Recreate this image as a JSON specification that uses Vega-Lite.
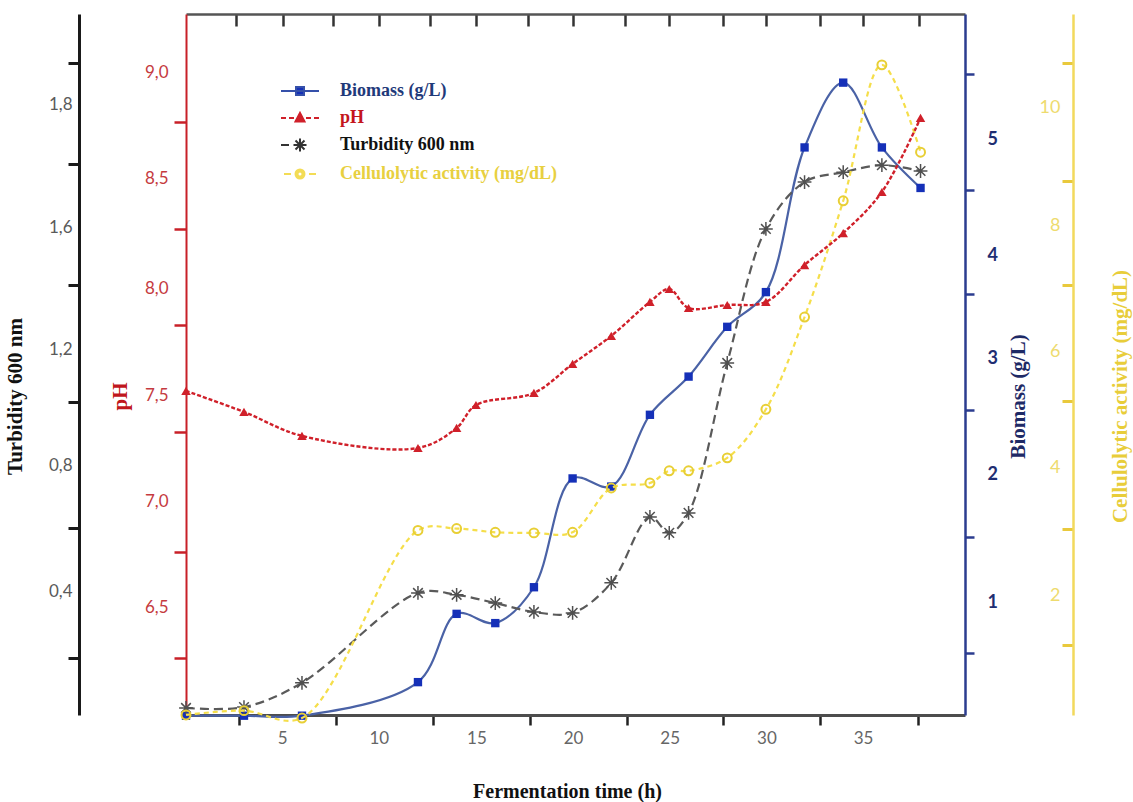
{
  "$schema": "https://vega.github.io/schema/vega-lite/v6.json",
  "width": 779,
  "height": 701,
  "autosize": {"type": "none"},
  "padding": {"left": 186, "top": 14, "right": 168, "bottom": 87},
  "background": "white",
  "config": {
    "view": {"stroke": null},
    "axis": {"grid": false, "labelFont": "Lato", "titleFont": "Liberation Serif", "titleFontWeight": "bold", "titleFontSize": 21, "labelOverlap": false, "labelFlush": false}
  },
  "data": {
    "values": [
      {"t": 0, "series": "Biomass (g/L)", "value": 0},
      {"t": 3, "series": "Biomass (g/L)", "value": 0},
      {"t": 6, "series": "Biomass (g/L)", "value": 0},
      {"t": 12, "series": "Biomass (g/L)", "value": 0.29},
      {"t": 14, "series": "Biomass (g/L)", "value": 0.88},
      {"t": 16, "series": "Biomass (g/L)", "value": 0.8},
      {"t": 18, "series": "Biomass (g/L)", "value": 1.11},
      {"t": 20, "series": "Biomass (g/L)", "value": 2.05},
      {"t": 22, "series": "Biomass (g/L)", "value": 1.98},
      {"t": 24, "series": "Biomass (g/L)", "value": 2.6},
      {"t": 26, "series": "Biomass (g/L)", "value": 2.93},
      {"t": 28, "series": "Biomass (g/L)", "value": 3.36},
      {"t": 30, "series": "Biomass (g/L)", "value": 3.66},
      {"t": 32, "series": "Biomass (g/L)", "value": 4.91},
      {"t": 34, "series": "Biomass (g/L)", "value": 5.47},
      {"t": 36, "series": "Biomass (g/L)", "value": 4.91},
      {"t": 38, "series": "Biomass (g/L)", "value": 4.56},
      {"t": 0, "series": "pH", "value": 7.514},
      {"t": 3, "series": "pH", "value": 7.417},
      {"t": 6, "series": "pH", "value": 7.306},
      {"t": 12, "series": "pH", "value": 7.25},
      {"t": 14, "series": "pH", "value": 7.343},
      {"t": 15, "series": "pH", "value": 7.449},
      {"t": 18, "series": "pH", "value": 7.505},
      {"t": 20, "series": "pH", "value": 7.639},
      {"t": 22, "series": "pH", "value": 7.769},
      {"t": 24, "series": "pH", "value": 7.926},
      {"t": 25, "series": "pH", "value": 7.986},
      {"t": 26, "series": "pH", "value": 7.898},
      {"t": 28, "series": "pH", "value": 7.912},
      {"t": 30, "series": "pH", "value": 7.926},
      {"t": 32, "series": "pH", "value": 8.097},
      {"t": 34, "series": "pH", "value": 8.245},
      {"t": 36, "series": "pH", "value": 8.435},
      {"t": 38, "series": "pH", "value": 8.778},
      {"t": 0, "series": "Turbidity 600 nm", "value": 0.025},
      {"t": 3, "series": "Turbidity 600 nm", "value": 0.028},
      {"t": 6, "series": "Turbidity 600 nm", "value": 0.107},
      {"t": 12, "series": "Turbidity 600 nm", "value": 0.4},
      {"t": 14, "series": "Turbidity 600 nm", "value": 0.394},
      {"t": 16, "series": "Turbidity 600 nm", "value": 0.367},
      {"t": 18, "series": "Turbidity 600 nm", "value": 0.338},
      {"t": 20, "series": "Turbidity 600 nm", "value": 0.335},
      {"t": 22, "series": "Turbidity 600 nm", "value": 0.433},
      {"t": 24, "series": "Turbidity 600 nm", "value": 0.648},
      {"t": 25, "series": "Turbidity 600 nm", "value": 0.596},
      {"t": 26, "series": "Turbidity 600 nm", "value": 0.661},
      {"t": 28, "series": "Turbidity 600 nm", "value": 1.15},
      {"t": 30, "series": "Turbidity 600 nm", "value": 1.587},
      {"t": 32, "series": "Turbidity 600 nm", "value": 1.74},
      {"t": 34, "series": "Turbidity 600 nm", "value": 1.772},
      {"t": 36, "series": "Turbidity 600 nm", "value": 1.795},
      {"t": 38, "series": "Turbidity 600 nm", "value": 1.776},
      {"t": 0, "series": "Cellulolytic activity (mg/dL)", "value": 0.05},
      {"t": 3, "series": "Cellulolytic activity (mg/dL)", "value": 0.12},
      {"t": 6, "series": "Cellulolytic activity (mg/dL)", "value": 0.0},
      {"t": 12, "series": "Cellulolytic activity (mg/dL)", "value": 3.05},
      {"t": 14, "series": "Cellulolytic activity (mg/dL)", "value": 3.08},
      {"t": 16, "series": "Cellulolytic activity (mg/dL)", "value": 3.02},
      {"t": 18, "series": "Cellulolytic activity (mg/dL)", "value": 3.01},
      {"t": 20, "series": "Cellulolytic activity (mg/dL)", "value": 3.02},
      {"t": 22, "series": "Cellulolytic activity (mg/dL)", "value": 3.74},
      {"t": 24, "series": "Cellulolytic activity (mg/dL)", "value": 3.82},
      {"t": 25, "series": "Cellulolytic activity (mg/dL)", "value": 4.02},
      {"t": 26, "series": "Cellulolytic activity (mg/dL)", "value": 4.02},
      {"t": 28, "series": "Cellulolytic activity (mg/dL)", "value": 4.23},
      {"t": 30, "series": "Cellulolytic activity (mg/dL)", "value": 5.02},
      {"t": 32, "series": "Cellulolytic activity (mg/dL)", "value": 6.52},
      {"t": 34, "series": "Cellulolytic activity (mg/dL)", "value": 8.41},
      {"t": 36, "series": "Cellulolytic activity (mg/dL)", "value": 10.62},
      {"t": 38, "series": "Cellulolytic activity (mg/dL)", "value": 9.2}
    ]
  },
  "layer": [
    {
      "transform": [{"filter": "datum.series === 'Biomass (g/L)'"}],
      "mark": {"type": "line", "interpolate": "catmull-rom", "color": "#4a62a6", "strokeWidth": 2.2,
        "point": {"shape": "square", "filled": true, "size": 70, "color": "#1530b8", "opacity": 1}},
      "encoding": {
        "x": {"field": "t", "type": "quantitative", "scale": {"domain": [0, 40.3], "nice": false, "zero": false},
          "axis": {"orient": "bottom", "title": "Fermentation time (h)",
            "values": [2.75, 7.75, 12.8, 17.8, 22.8, 27.8, 32.8, 37.85],
            "labelExpr": "datum.value > 37 ? '' : format(round(datum.value + 2.2), 'd')",
            "labelOffset": 43, "domainColor": "#4d4d4d", "domainWidth": 3, "tickColor": "#222", "tickWidth": 2.5, "tickSize": 10,
            "labelColor": "#666", "labelFontSize": 17, "labelPadding": 5, "titleColor": "#111", "titleFontSize": 20, "titlePadding": 35, "titleX": 381}},
        "y": {"field": "value", "type": "quantitative", "scale": {"domain": [0.006, 6.063], "nice": false, "zero": false},
          "axis": {"orient": "right", "offset": 0, "title": "Biomass (g/L)",
            "values": [0.542, 1.544, 2.642, 3.644, 4.542, 5.544],
            "labelExpr": "datum.value < 1 ? '' : format(round(datum.value - 0.5), 'd')",
            "labelOffset": 65, "domainColor": "#2b3c8f", "domainWidth": 2.5, "tickColor": "#2b3c8f", "tickWidth": 2.5, "tickSize": 9,
            "labelColor": "#1f2e72", "labelFontWeight": "bold", "labelFontSize": 18, "labelPadding": 13,
            "titleColor": "#1e2a66", "titleAngle": 270, "titleX": 53, "titleY": 382, "titleBaseline": "middle"}}
      }
    },
    {
      "transform": [{"filter": "datum.series === 'Turbidity 600 nm'"}],
      "mark": {"type": "line", "interpolate": "catmull-rom", "color": "#5a5a5a", "strokeWidth": 2.2, "strokeDash": [9, 5],
        "point": {"shape": "M-1,0H1M0,-1V1M-0.7,-0.7L0.7,0.7M-0.7,0.7L0.7,-0.7", "filled": false, "size": 190, "color": "#505050", "strokeWidth": 1.5, "opacity": 1}},
      "encoding": {
        "x": {"field": "t", "type": "quantitative", "scale": {"domain": [0, 40.3], "nice": false, "zero": false},
          "axis": {"orient": "top", "title": null, "labels": false,
            "values": [2.6, 5, 7.6, 10, 12.6, 15, 17.7, 20, 22.7, 25, 27.8, 30, 32.8, 35, 37.9],
            "domainColor": "#555", "domainWidth": 2.5, "tickColor": "#333", "tickWidth": 2.5, "tickSize": -12}},
        "y": {"field": "value", "type": "quantitative", "scale": {"domain": [0.002, 2.288], "nice": false, "zero": false},
          "axis": {"orient": "left", "offset": 107, "title": "Turbidity 600 nm",
            "values": [0.188, 0.612, 1.023, 1.404, 1.799, 2.128],
            "labelExpr": "datum.value < 0.3 ? '' : datum.value > 2 ? '1,8' : replace(format(round((datum.value - 0.2) * 5) / 5, '.1f'), '.', ',')",
            "labelOffset": {"condition": {"test": "datum.value > 2", "value": 41}, "value": 64},
            "domainColor": "#1a1a1a", "domainWidth": 3, "tickColor": "#1a1a1a", "tickWidth": 3, "tickSize": 11,
            "labelColor": "#5a5a5a", "labelFontSize": 17, "labelPadding": -4,
            "titleColor": "#111", "titleAngle": 270, "titleX": -64, "titleY": 382, "titleBaseline": "middle"}}
      }
    },
    {
      "transform": [{"filter": "datum.series === 'Cellulolytic activity (mg/dL)'"}],
      "mark": {"type": "line", "interpolate": "catmull-rom", "color": "#f5de4a", "strokeWidth": 2.2, "strokeDash": [5, 4],
        "point": {"shape": "circle", "filled": false, "size": 80, "color": "#e8cf35", "strokeWidth": 2, "opacity": 1}},
      "encoding": {
        "x": {"field": "t", "type": "quantitative", "scale": {"domain": [0, 40.3], "nice": false, "zero": false}, "axis": null},
        "y": {"field": "value", "type": "quantitative", "scale": {"domain": [0.049, 11.447], "nice": false, "zero": false},
          "axis": {"orient": "right", "offset": 108, "title": "Cellulolytic activity (mg/dL)",
            "values": [1.19, 3.07, 5.15, 7.04, 8.73, 10.65],
            "labelExpr": "datum.value < 2 ? '' : format(2 * floor(datum.value / 2), 'd')",
            "labelOffset": {"condition": {"test": "datum.value > 8", "value": 44}, "value": 66},
            "domainColor": "#f2d95c", "domainWidth": 2.5, "tickColor": "#e9c93c", "tickWidth": 3, "tickSize": -11,
            "labelColor": "#eedb6e", "labelFontSize": 18, "labelAlign": "right", "labelPadding": -2,
            "titleColor": "#e8cd3a", "titleAngle": 270, "titleX": 47, "titleY": 382, "titleBaseline": "middle"}}
      }
    },
    {
      "transform": [{"filter": "datum.series === 'pH'"}],
      "mark": {"type": "line", "interpolate": "catmull-rom", "color": "#d0202a", "strokeWidth": 2.4, "strokeDash": [4, 2],
        "point": {"shape": "triangle-up", "filled": true, "size": 90, "color": "#d0202a", "opacity": 1}},
      "encoding": {
        "x": {"field": "t", "type": "quantitative", "scale": {"domain": [0, 40.3], "nice": false, "zero": false}, "axis": null},
        "y": {"field": "value", "type": "quantitative", "scale": {"domain": [6.014, 9.259], "nice": false, "zero": false},
          "axis": {"orient": "left", "offset": 0, "title": "pH",
            "values": [6.278, 6.769, 7.324, 7.819, 8.264, 8.759],
            "labelExpr": "replace(format(round((datum.value + 0.2) * 2) / 2, '.1f'), '.', ',')",
            "labelOffset": {"condition": {"test": "datum.value > 7 && datum.value < 8", "value": -37}, "value": -50},
            "domainColor": "#c82028", "domainWidth": 2, "tickColor": "#c82028", "tickWidth": 2.5, "tickSize": 12,
            "labelColor": "#c53a40", "labelFontSize": 17, "labelPadding": 6,
            "titleColor": "#c0161c", "titleAngle": 270, "titleX": -66, "titleY": 382, "titleBaseline": "middle"}}
      }
    },
    {
      "transform": [{"filter": "false"}],
      "mark": {"type": "point", "opacity": 1, "strokeWidth": 2},
      "encoding": {
        "shape": {"field": "series", "type": "nominal",
          "scale": {"domain": ["Biomass (g/L)", "pH", "Turbidity 600 nm", "Cellulolytic activity (mg/dL)"],
            "range": [
              "M-1.9,0H1.9M-0.4,-0.4H0.4V0.4H-0.4Z",
              "M-1.9,0H-1.4M-1.1,0H-0.6M0.6,0H1.1M1.4,0H1.9M0,-0.5L0.45,0.35L-0.45,0.35Z",
              "M-1.9,0H-1.1M-0.65,0H0.65M0,-0.65V0.65M-0.45,-0.45L0.45,0.45M-0.45,0.45L0.45,-0.45",
              "M-1.6,0H-0.9M0.9,0H1.6M0.45,0A0.45,0.45 0 1,0 -0.45,0A0.45,0.45 0 1,0 0.45,0ZM0.25,0A0.25,0.25 0 1,1 -0.25,0A0.25,0.25 0 1,1 0.25,0Z"
            ]},
          "legend": {"title": null, "orient": "none", "legendX": 103, "legendY": 66, "symbolSize": 400, "symbolStrokeWidth": 2,
            "labelFont": "Liberation Serif", "labelFontSize": 18, "labelFontWeight": "bold", "labelOffset": 29, "rowPadding": 7, "labelLimit": 400,
            "labelColor": {"expr": "datum.value === 'Biomass (g/L)' ? '#1f3a7a' : datum.value === 'pH' ? '#c4161c' : datum.value === 'Turbidity 600 nm' ? '#111111' : '#e8d040'"}}},
        "fill": {"field": "series", "type": "nominal",
          "scale": {"domain": ["Biomass (g/L)", "pH", "Turbidity 600 nm", "Cellulolytic activity (mg/dL)"],
            "range": ["#1530b8", "#d0202a", "#444444", "#f0d840"]}},
        "stroke": {"field": "series", "type": "nominal",
          "scale": {"domain": ["Biomass (g/L)", "pH", "Turbidity 600 nm", "Cellulolytic activity (mg/dL)"],
            "range": ["#3550aa", "#d0202a", "#333333", "#f3dc55"]}}
      }
    }
  ],
  "resolve": {
    "scale": {"x": "independent", "y": "independent"},
    "axis": {"x": "independent", "y": "independent"}
  }
}
